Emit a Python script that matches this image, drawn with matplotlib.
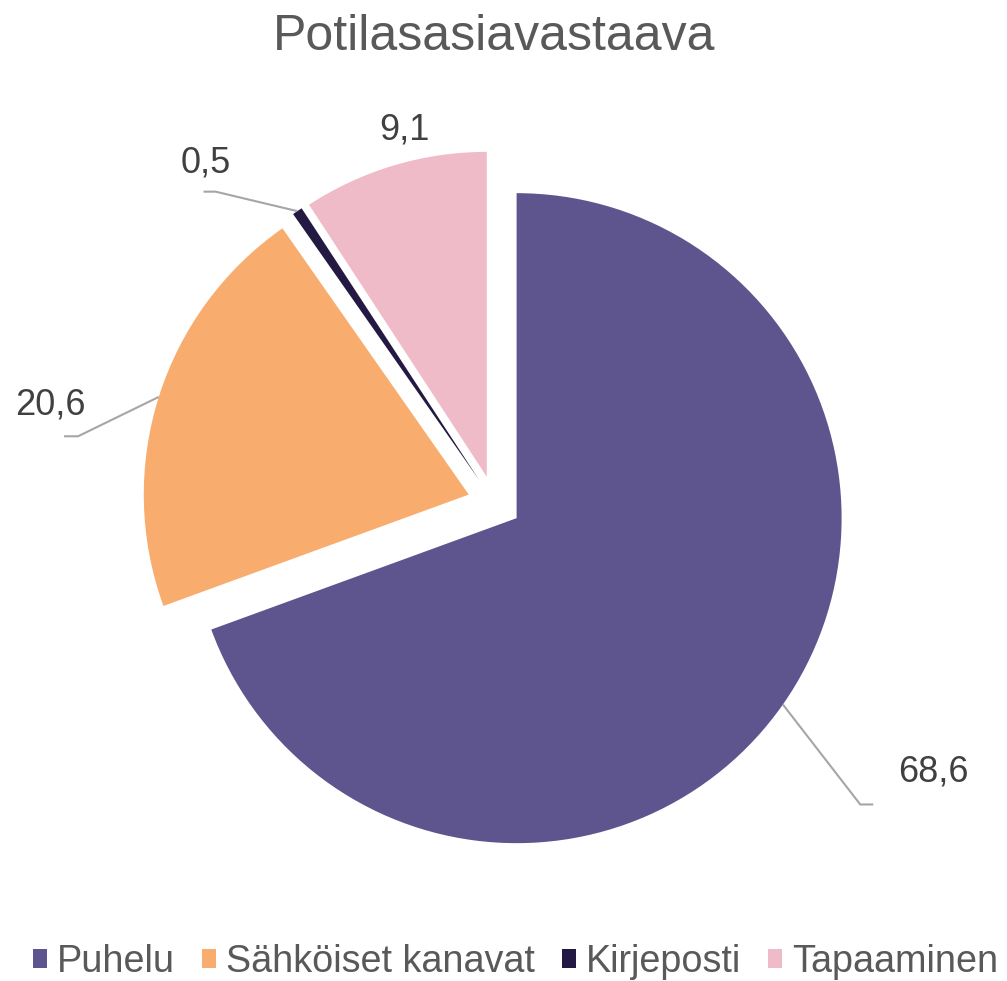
import numpy as np
import matplotlib
matplotlib.use("Agg")
import matplotlib.pyplot as plt
from matplotlib.patches import Patch

plt.rcParams["font.family"] = ["Liberation Sans", "DejaVu Sans"]

TITLE = "Potilasasiavastaava"
CATEGORIES = ["Puhelu", "Sähköiset kanavat", "Kirjeposti", "Tapaaminen"]
VALUES = [68.6, 20.6, 0.5, 9.1]
LABELS = ["68,6", "20,6", "0,5", "9,1"]

COLORS = ["#5E548E", "#F8AD6F", "#231942", "#F0BBC9"]
EXPLODE = 0.083
# label placement: (radius, angle offset from wedge middle in degrees)
LABEL_PLACE = [(1.584, 3.4), (1.40, 5.1), (1.373, 6.3), (1.18, -3.0)]
# leader elbow offset from label centre (dx, dy) and horizontal run; None = no leader
LEADERS = [(-0.224, -0.099, 0.04), (0.086, -0.096, -0.043), (0.031, -0.089, -0.037), None]

W, H = 1007, 981
R_PX = 325.0            # pie radius in pixels
CX, CY = 494.5, H - 502.7

fig = plt.figure(figsize=(W / 100, H / 100), dpi=100)
ax = fig.add_axes([0, 0, 1, 1])
wedges, _ = ax.pie(VALUES, colors=COLORS, startangle=90, counterclock=False,
                   explode=[EXPLODE] * len(VALUES), radius=1.0, center=(0, 0),
                   wedgeprops=dict(linewidth=0))
ax.set_xlim(-CX / R_PX, (W - CX) / R_PX)
ax.set_ylim(-CY / R_PX, (H - CY) / R_PX)
ax.set_aspect("equal", adjustable="datalim")
ax.axis("off")

for w, lab, (lr, dang), lead in zip(wedges, LABELS, LABEL_PLACE, LEADERS):
    mid = np.deg2rad((w.theta1 + w.theta2) / 2)
    wx, wy = w.center
    tang = mid + np.deg2rad(dang)
    tx, ty = lr * np.cos(tang), lr * np.sin(tang)
    ax.text(tx, ty, lab, ha="center", va="center", fontsize=26, color="#404040")
    if lead is not None:
        dx, dy, run = lead
        ex, ey = wx + np.cos(mid), wy + np.sin(mid)
        bx, by = tx + dx, ty + dy
        ax.plot([ex, bx, bx + run], [ey, by, by], color="#A6A6A6", lw=1.5,
                solid_capstyle="butt", zorder=1)

fig.text(494 / W, 1 - 50 / H, TITLE, ha="center", va="baseline", fontsize=36, color="#595959")

handles = [Patch(facecolor=c, edgecolor="none") for c in COLORS]
fig.legend(handles, CATEGORIES, loc="center", bbox_to_anchor=(515.5 / W, 1 - 962 / H),
           ncol=4, frameon=False, fontsize=27.2, handlelength=0.37, handleheight=0.37,
           handletextpad=0.25, columnspacing=0.73, labelcolor="#595959",
           borderaxespad=0, borderpad=0)

fig.savefig("out.png", dpi=100)
